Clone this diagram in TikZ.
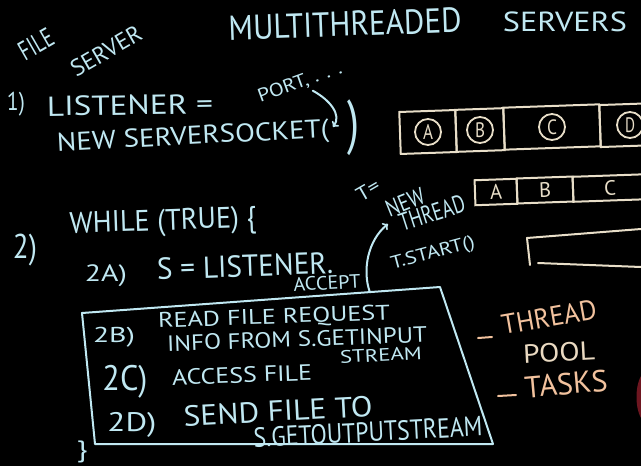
\documentclass[tikz,border=0pt]{standalone}
\usepackage{fontspec}
\setmainfont{PT Sans}
\usepackage{graphicx}
\usetikzlibrary{arrows,calc,positioning}
\definecolor{chalkblue}{RGB}{192,232,242}
\definecolor{cream}{RGB}{232,222,200}
\definecolor{peach}{RGB}{242,194,158}
\definecolor{palepeach}{RGB}{234,218,194}
\definecolor{sleeve}{RGB}{110,22,32}
\newcommand{\chalktxt}[3]{\resizebox*{#1pt}{#2pt}{#3}}
\tikzstyle{hand}=[inner sep=0pt,text=chalkblue]
\tikzstyle{handorange}=[inner sep=0pt,text=peach]
\tikzstyle{handpale}=[inner sep=0pt,text=palepeach]
\tikzstyle{chalkline}=[draw=chalkblue,line width=2pt,line cap=round,line join=round]
\tikzstyle{creamline}=[draw=cream,line width=2pt,line cap=round,line join=round]
\tikzstyle{cell}=[draw=cream,line width=2pt,rectangle,inner sep=0pt,rotate=2]
\tikzstyle{token}=[circle,draw=cream,line width=1.8pt,minimum size=26pt,inner sep=0pt,text=cream]

\begin{document}
\begin{tikzpicture}[x=1pt,y=1pt]
    % the board
    \fill[black] (0,0) rectangle (641,-466);
    \useasboundingbox (0,0) rectangle (641,-466);

    % Headline
    \node[hand,rotate=30] (file) at (36,-44) {\chalktxt{36}{19}{FILE}};
    \node[hand,rotate=30] (server) at (106,-51) {\chalktxt{78}{17}{SERVER}};
    \node[hand,rotate=2] (multi) at (345,-24) {\chalktxt{233}{25}{MULTITHREADED}};
    \node[hand] (servers) at (565,-22) {\chalktxt{124}{20}{SERVERS}};

    % Step 1: the listening socket
    \node[hand] (one) at (16,-104) {\chalktxt{18}{24}{1)}};
    \node[hand,rotate=1] (listener) at (130,-105) {\chalktxt{166}{20}{LISTENER =}};
    \node[hand,rotate=20] (port) at (300,-83) {\chalktxt{88}{16}{PORT, . . .}};
    \node[hand,rotate=3] (newsock) at (193,-138) {\chalktxt{272}{24}{NEW SERVERSOCKET(}};
    \node[hand] (close) at (353,-128) {\chalktxt{12}{56}{)}};
    \coordinate (sockin) at (333,-127);
    \draw[chalkline,->] ([xshift=10pt]port.south) .. controls (330,-100) and (342,-115) .. (sockin);

    % Queue of requests
    \foreach \pos/\name/\cw in {(428,-132)/qa/56, (480,-130)/qb/48, (552,-127)/qc/96, (630,-125)/qd/60}
        \node[cell,minimum width=\cw pt,minimum height=42pt] (\name) at \pos {};
    \foreach \name/\label in {qa/A, qb/B, qc/C, qd/D}
        \node[token] (t\name) at (\name) {\chalktxt{10}{15}{\label}};

    % Second row
    \foreach \pos/\name/\cw/\label in {(496,-192)/ra/42/A, (545,-190)/rb/56/B, (610,-188)/rc/74/C}
        \node[cell,minimum width=\cw pt,minimum height=25pt,text=cream] (\name) at \pos {\chalktxt{12}{15}{\label}};

    % Third row, still empty
    \draw[creamline] (641,-229) -- (527,-238) -- (530,-265);
    \draw[creamline] (538,-263) -- (641,-267);

    % Thread creation
    \node[hand,rotate=30] (teq) at (368,-190) {\chalktxt{24}{14}{T=}};
    \node[hand,rotate=22] (new) at (405,-202) {\chalktxt{40}{17}{NEW}};
    \node[hand,rotate=18] (thread) at (432,-213) {\chalktxt{68}{18}{THREAD}};
    \node[hand,rotate=15] (tstart) at (433,-254) {\chalktxt{86}{17}{T.START()}};

    % Step 2: the loop
    \node[hand] (two) at (25,-250) {\chalktxt{24}{32}{2)}};
    \node[hand,rotate=2] (while) at (163,-223) {\chalktxt{187}{28}{WHILE (TRUE) \{}};
    \node[hand] (twoa) at (106,-276) {\chalktxt{42}{22}{2A)}};
    \node[hand,rotate=2] (accept1) at (245,-266) {\chalktxt{176}{22}{S = LISTENER.}};
    \node[hand,rotate=3] (accept2) at (327,-283) {\chalktxt{67}{14}{ACCEPT}};

    % The work that goes to a thread
    \coordinate (b1) at (82,-313);
    \coordinate (b2) at (440,-287);
    \coordinate (b3) at (493,-444);
    \coordinate (b4) at (95,-444);
    \draw[chalkline] (b1) -- (b2) -- (b3) -- (b4) -- cycle;
    \coordinate (boxtop) at ($(b1)!0.804!(b2)$);
    \coordinate (threadin) at (388,-224);
    \draw[chalkline,->] (boxtop) .. controls (362,-270) and (368,-240) .. (threadin);

    \node[hand] (twob) at (114,-337) {\chalktxt{42}{20}{2B)}};
    \node[hand,rotate=2] (read1) at (274,-318) {\chalktxt{232}{19}{READ FILE REQUEST}};
    \node[hand,rotate=2] (read2) at (297,-339) {\chalktxt{260}{16}{INFO FROM S.GETINPUT}};
    \node[hand,rotate=3] (read3) at (381,-355) {\chalktxt{82}{13}{STREAM}};
    \node[hand] (twoc) at (125,-382) {\chalktxt{45}{33}{2C)}};
    \node[hand,rotate=2] (access) at (242,-375) {\chalktxt{140}{16}{ACCESS FILE}};
    \node[hand] (twod) at (132,-425) {\chalktxt{49}{25}{2D)}};
    \node[hand,rotate=3] (send1) at (278,-411) {\chalktxt{189}{21}{SEND FILE TO}};
    \node[hand,rotate=3] (send2) at (368,-432) {\chalktxt{229}{20}{S.GETOUTPUTSTREAM}};
    \node[hand] (endwhile) at (82,-452) {\chalktxt{11}{22}{\}}};

    % Thread pool
    \draw[draw=peach,line width=2pt,line cap=round] (478,-338) -- (492,-337);
    \node[handorange,rotate=10] (thr) at (549,-317) {\chalktxt{96}{20}{THREAD}};
    \node[handpale,rotate=3] (pool) at (559,-352) {\chalktxt{72}{19}{POOL}};
    \draw[draw=peach,line width=2pt,line cap=round] (498,-396) -- (516,-395);
    \node[handorange,rotate=5] (tasks) at (566,-384) {\chalktxt{83}{22}{TASKS}};

    % sleeve at the edge
    \fill[sleeve] (641,-376) .. controls (635,-386) and (635,-408) .. (641,-418) -- cycle;
\end{tikzpicture}
\end{document}
